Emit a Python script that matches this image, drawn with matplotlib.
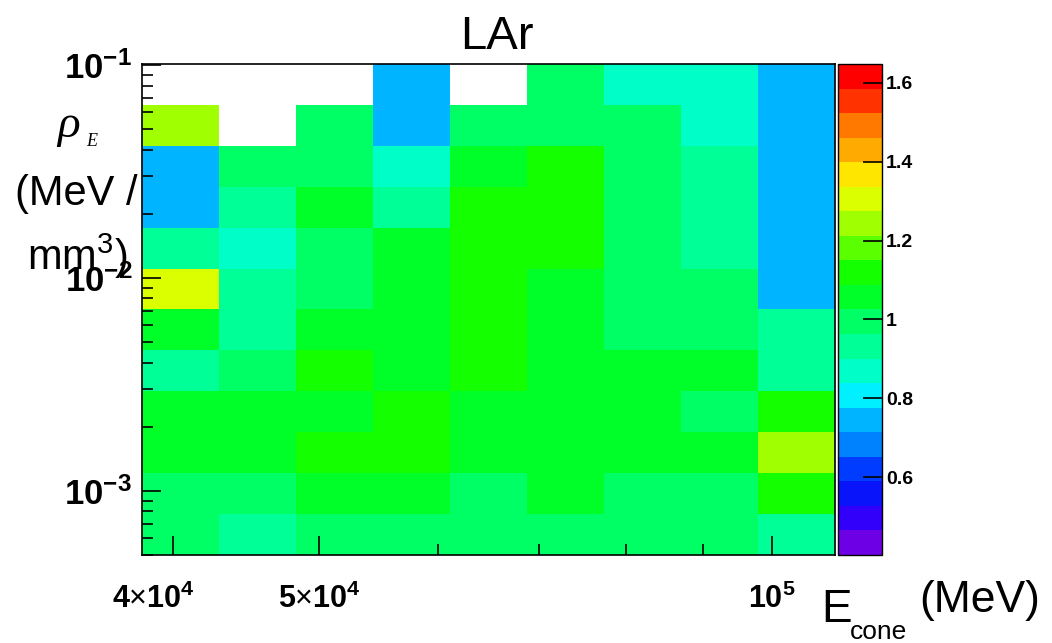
import numpy as np
import matplotlib
matplotlib.use('Agg')
import matplotlib.pyplot as plt
import matplotlib.transforms as mtransforms
from matplotlib.colors import ListedColormap, Normalize

plt.rcParams['font.family'] = ['Liberation Sans', 'DejaVu Sans']
plt.rcParams['mathtext.fontset'] = 'custom'
plt.rcParams['mathtext.rm'] = 'Liberation Sans'
plt.rcParams['mathtext.bf'] = 'Liberation Sans:bold'
plt.rcParams['mathtext.it'] = 'Liberation Sans:italic'

# binning (log-equal bins in energy and energy density)
X_MIN, X_MAX, NX = 3.814e4, 1.101e5, 9
Y_MIN, Y_MAX, NY = 5.0e-4, 1.01e-1, 12

# cell values, rows listed from top (high rho) to bottom, nan = empty
ratio_top_down = [
    [np.nan, np.nan, np.nan, 0.745, np.nan, 0.99, 0.87, 0.87, 0.745],
    [1.243,  np.nan, 0.99,   0.745, 0.99,   0.99, 0.99, 0.87, 0.745],
    [0.745,  1.00,   1.00,   0.87,  1.06,   1.12, 0.99, 0.95, 0.745],
    [0.745,  0.93,   1.06,   0.96,  1.09,   1.12, 0.99, 0.95, 0.745],
    [0.93,   0.87,   0.99,   1.06,  1.10,   1.12, 0.99, 0.95, 0.745],
    [1.31,   0.95,   0.99,   1.06,  1.10,   1.06, 0.99, 0.99, 0.745],
    [1.06,   0.95,   1.06,   1.06,  1.10,   1.06, 0.97, 0.99, 0.93],
    [0.93,   0.99,   1.10,   1.06,  1.10,   1.06, 1.05, 1.05, 0.95],
    [1.06,   1.06,   1.06,   1.10,  1.06,   1.06, 1.06, 0.99, 1.12],
    [1.06,   1.06,   1.10,   1.10,  1.06,   1.06, 1.06, 1.06, 1.243],
    [0.99,   0.99,   1.06,   1.06,  0.99,   1.06, 0.99, 0.99, 1.10],
    [0.99,   0.93,   1.00,   1.00,  1.00,   1.00, 1.00, 1.00, 0.93],
]

Z_MIN, Z_MAX = 0.4025, 1.648
cbar_ticks = [0.6, 0.8, 1.0, 1.2, 1.4, 1.6]
cbar_labels = ['0.6', '0.8', '1', '1.2', '1.4', '1.6']

x_major = [4e4, 5e4, 1e5]
x_major_labels = [r'$\mathbf{4}{\times}\mathbf{10^{4}}$',
                  r'$\mathbf{5}{\times}\mathbf{10^{4}}$',
                  r'$\mathbf{10^{5}}$']
x_minor = [6e4, 7e4, 8e4, 9e4]
y_major = [1e-3, 1e-2, 1e-1]
y_major_labels = [r'$\mathbf{10^{-3}}$', r'$\mathbf{10^{-2}}$',
                  r'$\mathbf{10^{-1}}$']

# ROOT-like 20 level rainbow palette, bottom to top
palette = [
    (110, 0, 230), (50, 0, 250), (10, 20, 250), (0, 60, 255), (0, 130, 255),
    (0, 180, 255), (0, 240, 255), (0, 255, 200), (0, 255, 150), (0, 255, 100),
    (0, 255, 40), (20, 255, 0), (90, 255, 0), (160, 255, 0), (220, 255, 0),
    (255, 230, 0), (255, 170, 0), (255, 120, 0), (255, 50, 0), (255, 0, 0),
]
cmap = ListedColormap([(r / 255, g / 255, b / 255) for r, g, b in palette])

x_edges = np.geomspace(X_MIN, X_MAX, NX + 1)
y_edges = np.geomspace(Y_MIN, Y_MAX, NY + 1)
Z = np.ma.masked_invalid(np.array(ratio_top_down)[::-1])

fig = plt.figure(figsize=(10.52, 6.43), dpi=100)
ax = fig.add_axes([0.135, 0.137, 0.6587, 0.7635])
cax = fig.add_axes([0.7966, 0.137, 0.0418, 0.7635])

mesh = ax.pcolormesh(x_edges, y_edges, Z, cmap=cmap,
                     norm=Normalize(Z_MIN, Z_MAX), shading='flat')
ax.set_xscale('log')
ax.set_yscale('log')
ax.set_xlim(X_MIN, X_MAX)
ax.set_ylim(Y_MIN, Y_MAX)

ax.set_xticks(x_major)
ax.set_xticks(x_minor, minor=True)
ax.set_xticklabels(x_major_labels)
ax.xaxis.set_minor_formatter(plt.NullFormatter())
ax.set_yticks(y_major)
ax.set_yticklabels(y_major_labels)
ax.yaxis.set_minor_formatter(plt.NullFormatter())
ax.tick_params(which='both', direction='in', top=False, right=False, width=1.2)
ax.tick_params(axis='x', which='major', pad=21, length=14, labelsize=22)
ax.tick_params(axis='x', which='minor', length=8)
ax.tick_params(axis='y', which='major', pad=7, length=14, labelsize=25)
ax.tick_params(axis='y', which='minor', length=8)
for s in ax.spines.values():
    s.set_linewidth(1.2)

# first x label sits a bit left of its tick in the original
lab0 = ax.get_xticklabels()[0]
lab0.set_transform(lab0.get_transform() +
                   mtransforms.ScaledTranslation(-20 / 100, 0, fig.dpi_scale_trans))

cb = fig.colorbar(mesh, cax=cax, ticks=cbar_ticks)
cb.ax.set_yticklabels(cbar_labels, fontweight='bold')
cb.ax.tick_params(direction='in', length=14, width=1.2, labelsize=14, pad=3)
cb.outline.set_linewidth(1.0)

fig.text(0.472, 0.943, 'LAr', fontsize=34, ha='center', va='center')
fig.text(0.065, 0.805, 'ρ', fontsize=34, family='Liberation Serif',
         style='italic', ha='center', va='center')
fig.text(0.087, 0.78, 'E', fontsize=13, family='Liberation Serif',
         style='italic', ha='center', va='center')
fig.text(0.014, 0.681, '(MeV /', fontsize=30, ha='left', va='baseline')
fig.text(0.026, 0.58, r'mm$^{3}$)', fontsize=30, ha='left', va='baseline')
fig.text(0.781, 0.033, 'E', fontsize=33, ha='left', va='baseline')
fig.text(0.808, 0.006, 'cone', fontsize=19, ha='left', va='baseline')
fig.text(0.874, 0.048, '(MeV)', fontsize=32, ha='left', va='baseline')

fig.savefig('out.png', dpi=100)
